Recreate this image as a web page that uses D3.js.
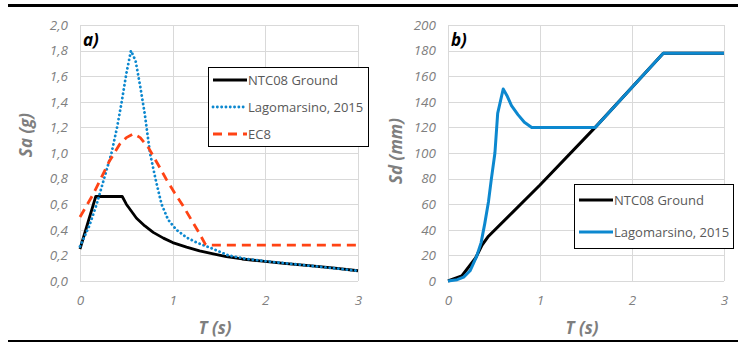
<!DOCTYPE html>
<html>
<head>
<meta charset="utf-8">
<style>
  body { margin: 0; background: #fff; font-family: "Open Sans", sans-serif; }
  .grid line { stroke: #d9d9d9; stroke-width: 1; }
  .tick text { fill: #7f7f7f; font-style: italic; font-size: 13.5px; }
  .ttl { fill: #7f7f7f; font-weight: bold; font-style: italic; font-size: 17px; }
  .lbl { fill: #000; font-weight: bold; font-style: italic; font-size: 17px; }
  .leg text { fill: #595959; font-size: 13px; }
</style>
</head>
<body>
<script src="https://cdn.jsdelivr.net/npm/d3@7"></script>
<script>
// ---- panel a) spectral acceleration ----
var ntcT  = [0, 0.17, 0.456, 0.5, 0.61, 0.7, 0.79, 0.9, 1.0, 1.15, 1.29, 1.45, 1.58, 1.75, 1.94, 2.2, 2.5, 2.75, 3.0];
var ntcSa = [0.25, 0.66, 0.66, 0.60, 0.49, 0.43, 0.38, 0.335, 0.30, 0.265, 0.235, 0.21, 0.19, 0.172, 0.157, 0.138, 0.118, 0.10, 0.08];

var lagT  = [0, 0.1, 0.18, 0.26, 0.34, 0.4, 0.45, 0.5, 0.55, 0.6, 0.65, 0.7, 0.755, 0.82, 0.88, 0.95, 1.04, 1.15, 1.26, 1.44, 1.6, 1.8, 2.0, 2.5, 3.0];
var lagSa = [0.27, 0.43, 0.6, 0.8, 1.0, 1.2, 1.4, 1.62, 1.80, 1.72, 1.52, 1.3, 1.0, 0.78, 0.6, 0.48, 0.4, 0.34, 0.3, 0.25, 0.2, 0.172, 0.155, 0.118, 0.08];

var ec8T  = [0, 0.144, 0.32, 0.43, 0.5, 0.575, 0.65, 0.74, 0.85, 0.935, 1.02, 1.11, 1.2, 1.29, 1.35, 1.37, 3.0];
var ec8Sa = [0.5, 0.68, 0.94, 1.07, 1.12, 1.15, 1.12, 1.04, 0.9, 0.79, 0.69, 0.59, 0.48, 0.37, 0.29, 0.28, 0.28];

// ---- panel b) spectral displacement ----
var ntcDT = [0, 0.15, 0.3, 0.37, 0.44, 1.0, 1.6, 2.34, 3.0];
var ntcSd = [0, 4, 18, 28, 35, 75, 120, 178, 178];

var lagDT = [0, 0.1, 0.17, 0.24, 0.31, 0.36, 0.4, 0.44, 0.47, 0.51, 0.54, 0.6, 0.64, 0.69, 0.76, 0.83, 0.91, 1.6, 2.34, 3.0];
var lagSd = [0, 1, 3, 8, 19, 30, 45, 62, 79, 100, 131, 150, 145, 137, 130, 124, 120, 120, 178, 178];

var xTicks = [0, 1, 2, 3];
var saTicks = d3.range(0, 2.01, 0.2);
var sdTicks = d3.range(0, 201, 20);

var blue = "#0c88cf", red = "#ff4314";

var svg = d3.select("body").append("svg").attr("width", 738).attr("height", 342);

svg.append("rect").attr("x", 8).attr("y", 4).attr("width", 730).attr("height", 3).attr("fill", "#000");
svg.append("rect").attr("x", 8).attr("y", 340).attr("width", 730).attr("height", 2).attr("fill", "#000");

function zip(a, b) { return a.map(function(v, i) { return [v, b[i]]; }); }

function panel(o) {
  var x = d3.scaleLinear().domain([0, 3]).range([o.x0, o.x1]);
  var y = d3.scaleLinear().domain(o.yDom).range([281, 25]);
  var g = svg.append("g");

  var grid = g.append("g").attr("class", "grid");
  grid.selectAll(".h").data(o.yTicks).enter().append("line")
    .attr("x1", o.x0).attr("x2", o.x1)
    .attr("y1", function(d) { return Math.round(y(d)) + 0.5; })
    .attr("y2", function(d) { return Math.round(y(d)) + 0.5; });
  grid.selectAll(".v").data(xTicks).enter().append("line")
    .attr("y1", 25).attr("y2", 281)
    .attr("x1", function(d) { return Math.round(x(d)) + 0.5; })
    .attr("x2", function(d) { return Math.round(x(d)) + 0.5; });

  var ya = g.append("g").attr("transform", "translate(" + o.x0 + ",0)")
    .call(d3.axisLeft(y).tickValues(o.yTicks).tickSize(0).tickPadding(12).tickFormat(o.fmt));
  ya.select(".domain").remove();
  var xa = g.append("g").attr("transform", "translate(0,281)")
    .call(d3.axisBottom(x).tickValues(xTicks).tickSize(0).tickPadding(14).tickFormat(d3.format("d")));
  xa.select(".domain").remove();
  g.selectAll(".tick text").attr("font-family", "Open Sans");

  var line = d3.line().x(function(d) { return x(d[0]); }).y(function(d) { return y(d[1]); });
  o.series.forEach(function(s) {
    g.append("path").datum(s.data).attr("d", line).attr("fill", "none")
      .attr("stroke", s.color).attr("stroke-width", s.w)
      .attr("stroke-dasharray", s.dash || null)
      .attr("stroke-linecap", s.cap || "butt")
      .attr("stroke-linejoin", "round");
  });

  g.append("text").attr("class", "ttl")
    .attr("transform", "translate(" + o.ytX + "," + o.ytY + ") rotate(-90)")
    .attr("text-anchor", "middle").attr("dy", "0.35em").text(o.yTitle);
  g.append("text").attr("class", "ttl").attr("x", (o.x0 + o.x1) / 2 - 4).attr("y", 334)
    .attr("text-anchor", "middle").text("T (s)");
  g.append("text").attr("class", "lbl").attr("x", o.x0 + 3).attr("y", 46).text(o.tag);

  var L = o.leg;
  var lg = g.append("g").attr("class", "leg");
  lg.append("rect").attr("x", L.x + 0.5).attr("y", L.y + 0.5).attr("width", L.w).attr("height", L.h)
    .attr("fill", "#fff").attr("stroke", "#000").attr("stroke-width", 1);
  o.series.forEach(function(s, i) {
    var yy = L.y + L.r0 + i * L.dy;
    lg.append("line").attr("x1", L.x + 5).attr("x2", L.x + 39).attr("y1", yy).attr("y2", yy)
      .attr("stroke", s.color).attr("stroke-width", s.w)
      .attr("stroke-dasharray", s.dash || null).attr("stroke-linecap", s.cap || "butt");
    lg.append("text").attr("x", L.x + 40).attr("y", yy).attr("dy", "0.35em").text(s.name);
  });
}

panel({
  x0: 80, x1: 358, yDom: [0, 2], yTicks: saTicks,
  fmt: function(d) { return d3.format(".1f")(d).replace(".", ","); },
  yTitle: "Sa (g)", ytX: 26, ytY: 135, tag: "a)",
  series: [
    { name: "NTC08 Ground", data: zip(ntcT, ntcSa), color: "#000", w: 2.8 },
    { name: "Lagomarsino, 2015", data: zip(lagT, lagSa), color: blue, w: 2.8, dash: "0.1 4.2", cap: "round" },
    { name: "EC8", data: zip(ec8T, ec8Sa), color: red, w: 2.8, dash: "9 6" }
  ],
  leg: { x: 208, y: 67, w: 160, h: 79, r0: 13, dy: 27 }
});

panel({
  x0: 448, x1: 724, yDom: [0, 200], yTicks: sdTicks,
  fmt: d3.format("d"),
  yTitle: "Sd (mm)", ytX: 396, ytY: 151, tag: "b)",
  series: [
    { name: "NTC08 Ground", data: zip(ntcDT, ntcSd), color: "#000", w: 3 },
    { name: "Lagomarsino, 2015", data: zip(lagDT, lagSd), color: blue, w: 3 }
  ],
  leg: { x: 574, y: 184, w: 159, h: 64, r0: 16, dy: 32 }
});
</script>
</body>
</html>
